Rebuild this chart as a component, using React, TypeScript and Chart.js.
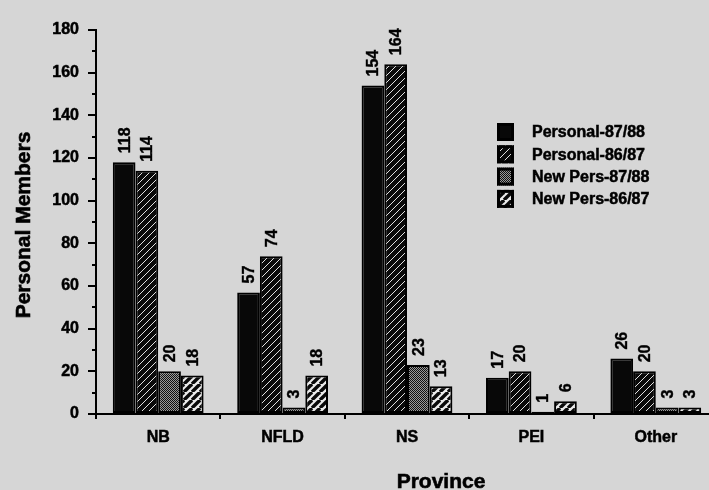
import React, { useEffect, useRef } from "react";
import { Chart, registerables } from "chart.js";

Chart.register(...registerables);

const categories = ["NB", "NFLD", "NS", "PEI", "Other"];
const personal8788 = [118, 57, 154, 17, 26];
const personal8687 = [114, 74, 164, 20, 20];
const newPers8788 = [20, 3, 23, 1, 3];
const newPers8687 = [18, 18, 13, 6, 3];
const seriesLabels = ["Personal-87/88", "Personal-86/87", "New Pers-87/88", "New Pers-86/87"];
const yMax = 180;
const yStep = 20;
const minorTickValues = [10, 30, 50, 70, 90, 110, 130, 150, 170];
const yTitle = "Personal Members";
const xTitle = "Province";

const FONT = "'Liberation Sans', Arial, Helvetica, sans-serif";
const BG = "#d6d6d6";

function diagPattern(size: number, bg: string, fg: string, lw: number) {
  const c = document.createElement("canvas");
  c.width = size;
  c.height = size;
  const ctx = c.getContext("2d")!;
  ctx.fillStyle = bg;
  ctx.fillRect(0, 0, size, size);
  ctx.strokeStyle = fg;
  ctx.lineWidth = lw;
  for (const k of [-size, 0, size]) {
    ctx.beginPath();
    ctx.moveTo(k, size);
    ctx.lineTo(k + size, 0);
    ctx.stroke();
  }
  return ctx.createPattern(c, "repeat")!;
}

function dotPattern() {
  const c = document.createElement("canvas");
  c.width = 2;
  c.height = 2;
  const ctx = c.getContext("2d")!;
  ctx.fillStyle = "#9a9a9a";
  ctx.fillRect(0, 0, 2, 2);
  ctx.fillStyle = "#111";
  ctx.fillRect(0, 0, 1, 1);
  ctx.fillRect(1, 1, 1, 1);
  return ctx.createPattern(c, "repeat")!;
}

function boldText(ctx: CanvasRenderingContext2D, t: string, x: number, y: number, sw: number) {
  ctx.fillText(t, x, y);
  ctx.lineWidth = sw;
  ctx.strokeStyle = "#000";
  ctx.strokeText(t, x, y);
}

export default function App() {
  const ref = useRef<HTMLCanvasElement | null>(null);

  useEffect(() => {
    const canvas = ref.current!;
    const fills: any[] = [
      "#080808",
      diagPattern(7, "#0a0a0a", "#e0e0e0", 1.0),
      dotPattern(),
      diagPattern(8, "#ececec", "#0a0a0a", 3.4),
    ];
    const values = [personal8788, personal8687, newPers8788, newPers8687];

    const overlay = {
      id: "overlay",
      afterDraw(chart: any) {
        const ctx = chart.ctx;
        const ys = chart.scales.y;
        ctx.save();
        // minor ticks
        ctx.strokeStyle = "#000";
        ctx.lineWidth = 2;
        for (const v of minorTickValues) {
          const py = Math.round(ys.getPixelForValue(v));
          ctx.beginPath();
          ctx.moveTo(ys.right - 4, py);
          ctx.lineTo(ys.right, py);
          ctx.stroke();
        }
        // data labels
        ctx.fillStyle = "#000";
        ctx.font = "bold 16px " + FONT;
        ctx.textAlign = "left";
        ctx.textBaseline = "middle";
        chart.data.datasets.forEach((ds: any, i: number) => {
          const meta = chart.getDatasetMeta(i);
          meta.data.forEach((el: any, j: number) => {
            ctx.save();
            ctx.translate(el.x + 1, el.y - 9);
            ctx.rotate(-Math.PI / 2);
            boldText(ctx, String(ds.data[j]), 0, 0, 0.4);
            ctx.restore();
          });
        });
        // legend
        const lx = 497;
        const ly = 123;
        ctx.font = "bold 16px " + FONT;
        ctx.textBaseline = "middle";
        ctx.textAlign = "left";
        seriesLabels.forEach((lab, i) => {
          const y = ly + i * 22.3;
          ctx.fillStyle = fills[i];
          ctx.fillRect(lx, y, 17, 18);
          ctx.strokeStyle = "#000";
          ctx.lineWidth = 3;
          ctx.strokeRect(lx + 1.5, y + 1.5, 14, 15);
          ctx.fillStyle = "#000";
          boldText(ctx, lab, 532, y + 10, 0.5);
        });
        // titles
        ctx.font = "bold 21px " + FONT;
        ctx.textAlign = "center";
        ctx.save();
        ctx.translate(24, 225);
        ctx.rotate(-Math.PI / 2);
        boldText(ctx, yTitle, 0, 0, 0.6);
        ctx.restore();
        ctx.font = "bold 21px " + FONT;
        ctx.textBaseline = "alphabetic";
        boldText(ctx, xTitle, 441, 488, 0.6);
        ctx.restore();
      },
    };

    const chart = new Chart(canvas, {
      type: "bar",
      data: {
        labels: categories,
        datasets: values.map((d, i) => ({
          label: seriesLabels[i],
          data: d,
          backgroundColor: fills[i],
          borderColor: "#000",
          borderWidth: 2,
          borderSkipped: false,
          categoryPercentage: 0.73,
          barPercentage: 1.0,
        })),
      },
      options: {
        responsive: false,
        animation: false,
        devicePixelRatio: 1,
        layout: { padding: { left: 0, top: 30, right: 22, bottom: 0 } },
        plugins: { legend: { display: false }, tooltip: { enabled: false } },
        scales: {
          x: {
            afterFit: (s: any) => {
              s.height = 76;
            },
            border: { display: true, color: "#000", width: 2 },
            grid: {
              display: true,
              drawOnChartArea: false,
              drawTicks: true,
              tickLength: 5,
              color: "#000",
              lineWidth: 2,
              offset: true,
            },
            ticks: {
              color: "#000",
              font: { family: FONT, size: 16, weight: "bold" },
              padding: 9,
              textStrokeColor: "#000",
              textStrokeWidth: 0.5,
            },
          },
          y: {
            min: 0,
            max: yMax,
            afterFit: (s: any) => {
              s.width = 96;
            },
            border: { display: true, color: "#000", width: 2 },
            grid: {
              display: true,
              drawOnChartArea: false,
              drawTicks: true,
              tickLength: 8,
              color: "#000",
              lineWidth: 2,
            },
            ticks: {
              stepSize: yStep,
              color: "#000",
              font: { family: FONT, size: 16, weight: "bold" },
              padding: 9,
              textStrokeColor: "#000",
              textStrokeWidth: 0.5,
            },
          },
        },
      },
      plugins: [overlay],
    } as any);
    return () => chart.destroy();
  }, []);

  return (
    <div
      style={{
        position: "fixed",
        left: 0,
        top: 0,
        width: 709,
        height: 490,
        overflow: "hidden",
        background: BG,
      }}
    >
      <canvas ref={ref} width={740} height={490} style={{ display: "block", width: 740, height: 490 }} />
    </div>
  );
}
